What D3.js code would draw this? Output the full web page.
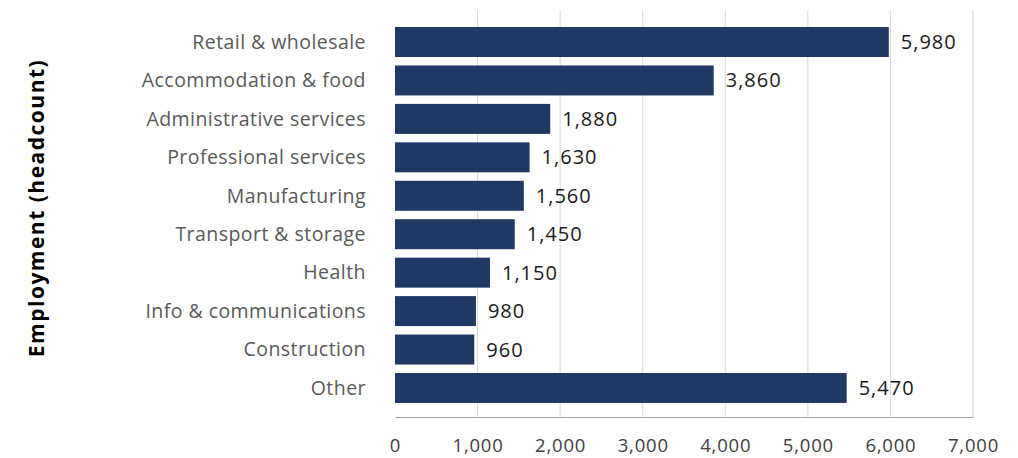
<!DOCTYPE html>
<html><head><meta charset="utf-8">
<script src="https://cdn.jsdelivr.net/npm/d3@7"></script>
<style>body{margin:0;background:#fff}svg{display:block}</style>
</head><body>
<svg id="c" width="1018" height="458"></svg>
<script>
const categories = ["Retail & wholesale","Accommodation & food","Administrative services","Professional services","Manufacturing","Transport & storage","Health","Info & communications","Construction","Other"];
const values = [5980,3860,1880,1630,1560,1450,1150,980,960,5470];
const xTicks = [0,1000,2000,3000,4000,5000,6000,7000];
const yTitle = "Employment (headcount)";

const svg = d3.select("#c");
const font = "'Open Sans', sans-serif";
const x = d3.scaleLinear().domain([0,7000]).range([395,973]);
const y = d3.scaleBand().domain(categories).range([22.8,407.2]).paddingInner(0.22).paddingOuter(0.11);
const axisY = 417, gridTop = 10;

svg.append("g").selectAll("line").data(xTicks.slice(1)).join("line")
  .attr("x1",d=>x(d)).attr("x2",d=>x(d)).attr("y1",gridTop).attr("y2",axisY)
  .attr("stroke","#d9d9d9").attr("stroke-width",1);

const ax = svg.append("g").attr("transform",`translate(0,${axisY})`)
  .call(d3.axisBottom(x).tickValues(xTicks).tickFormat(d3.format(",")).tickSize(0).tickPadding(22));
ax.select(".domain").attr("stroke","#a6a6a6");
ax.selectAll("text").attr("font-family",font).attr("font-size",18.5).attr("letter-spacing",0.8).attr("fill","#404040");

svg.append("g").selectAll("rect").data(values).join("rect")
  .attr("x",x(0)).attr("y",(d,i)=>y(categories[i]))
  .attr("width",d=>x(d)-x(0)).attr("height",y.bandwidth()).attr("fill","#1f3864");

svg.append("g").selectAll("text").data(values).join("text")
  .attr("x",d=>x(d)+12).attr("y",(d,i)=>y(categories[i])+y.bandwidth()/2)
  .attr("dy","0.35em").attr("font-family",font).attr("font-size",20).attr("letter-spacing",1).attr("fill","#1a1a1a")
  .text(d=>d3.format(",")(d));

svg.append("g").selectAll("text").data(categories).join("text")
  .attr("x",366).attr("y",d=>y(d)+y.bandwidth()/2).attr("dy","0.35em")
  .attr("text-anchor","end").attr("font-family",font).attr("font-size",19.5).attr("letter-spacing",0.45).attr("fill","#595959")
  .text(d=>d);

svg.append("text").attr("transform","translate(44,208) rotate(-90)")
  .attr("text-anchor","middle").attr("font-family",font).attr("font-weight","bold")
  .attr("font-size",21).attr("letter-spacing",1.5).attr("fill","#000").text(yTitle);
</script>
</body></html>
